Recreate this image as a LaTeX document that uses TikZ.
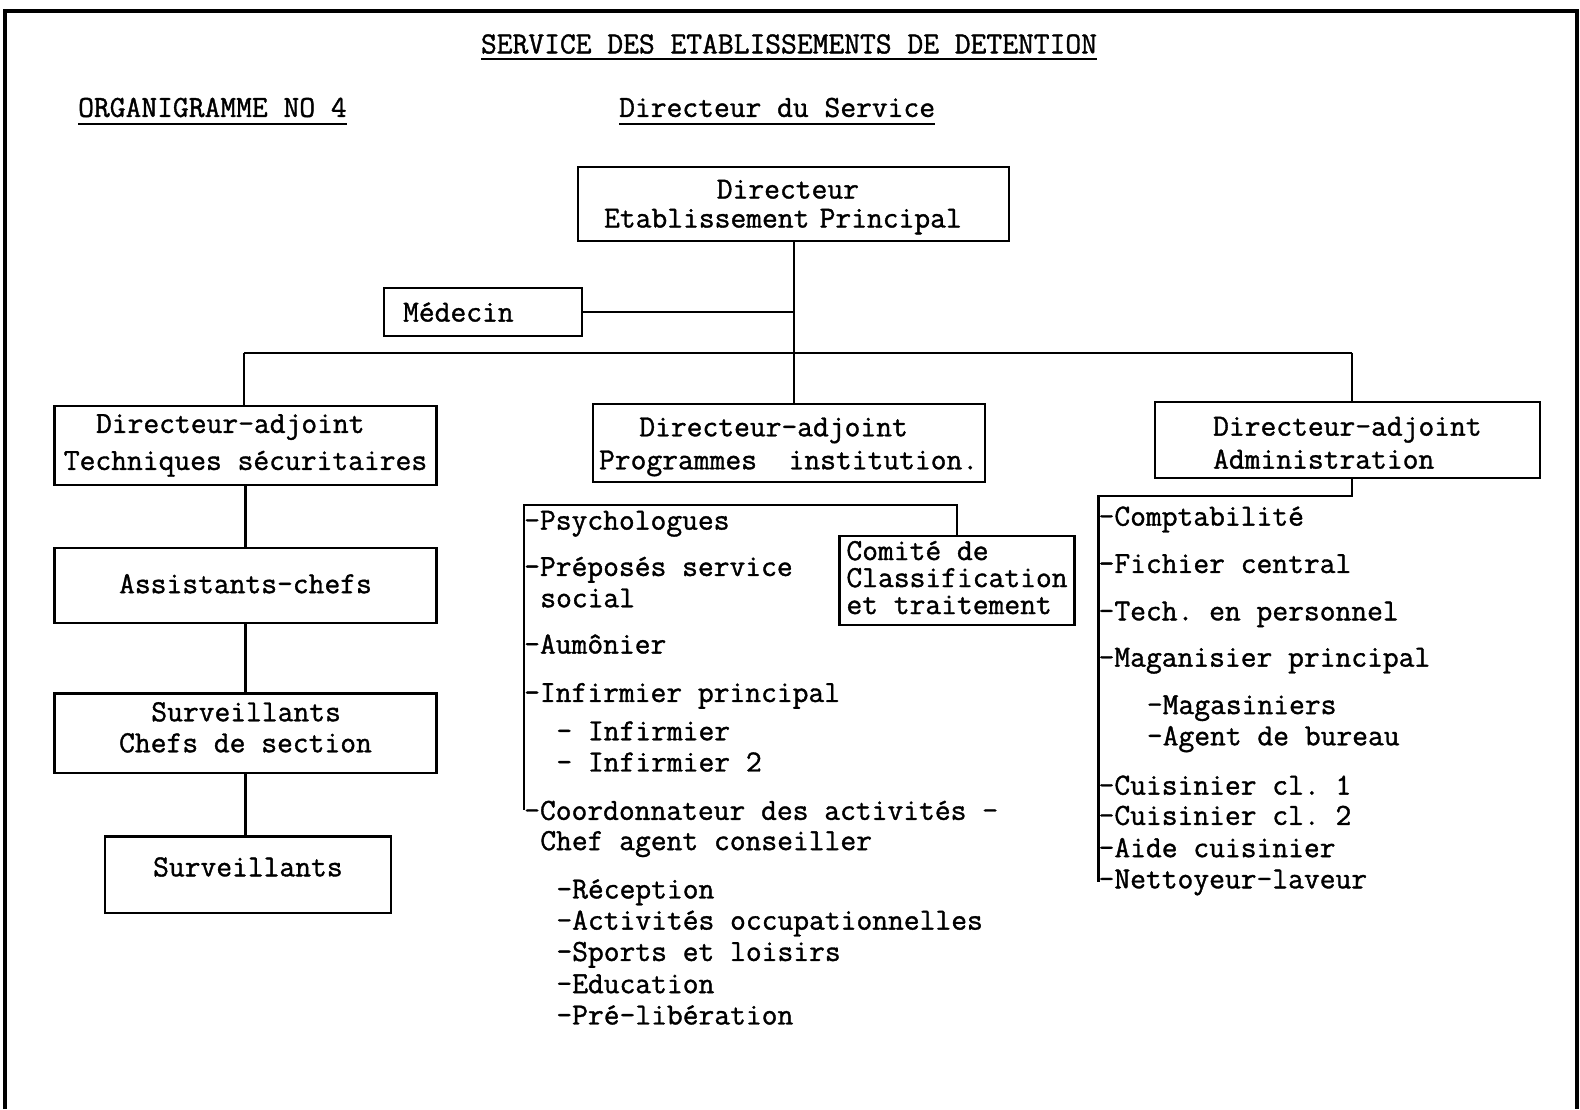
\documentclass[tikz,border=0pt]{standalone}
\usepackage{fontspec}
\setmonofont{Latin Modern Mono}[FakeBold=1.2, WordSpace={1,0,0}]
% one typewriter cell
\newlength\cw
\setlength\cw{16.1pt}
\newcommand\ind[1]{\hspace*{#1\cw}}
\newcommand\typeat[1]{\ttfamily\fontsize{30.67}{#1}\selectfont}
% invisible struts that nudge a box's text up (extra depth) or down (extra height)
\newcommand\padbelow[1]{\rule[-#1]{0pt}{0pt}}
\newcommand\padabove[1]{\rule{0pt}{#1}}

\begin{document}
\begin{tikzpicture}[x=1pt, y=-1pt,
  every node/.style={font=\typeat{31.4}, inner sep=0pt},
  box/.style={draw, line width=2.2pt, anchor=north west, align=left},
  link/.style={line width=2.2pt},
  listitem/.style={anchor=mid west},
  rule/.style={line width=1.8pt}]

\useasboundingbox (0,0) rectangle (1580,1109);

% outer frame (open at the bottom)
\draw[line width=3.2pt] (5,1109) -- (5,11) -- (1577,11) -- (1577,1109);

% headings
\node[anchor=base] (title) at (789,53.4) {SERVICE DES ETABLISSEMENTS DE DETENTION};
\node[anchor=base west] (org) at (78,116.9) {ORGANIGRAMME NO 4};
\node[anchor=base west] (dirsvc) at (619,116.9) {Directeur du Service};
\draw[rule] ([yshift=-5.5pt]title.base west) -- ([yshift=-5.5pt]title.base east);
\draw[rule] ([yshift=-7pt]org.base west) -- ([yshift=-7pt]org.base east);
\draw[rule] ([yshift=-7pt]dirsvc.base west) -- ([yshift=-7pt]dirsvc.base east);

% boxes
\node[box, text width=379pt, inner xsep=26pt, minimum height=74pt, font=\typeat{29}] (dirEP) at (577,166)
  {\padabove{24.7pt}\ind{7}Directeur\\Etablissement Principal};
\node[box, text width=160pt, inner xsep=19pt, minimum height=48pt] (medecin) at (383,287)
  {Médecin};
\node[box, minimum width=382pt, minimum height=78.7pt, font=\typeat{37}] (daTech) at (53.4,405)
  {\ind{2}Directeur-adjoint\\Techniques sécuritaires};
\node[box, minimum width=392pt, minimum height=77.7pt, font=\typeat{33}] (daProg) at (591.5,403)
  {\padabove{26.7pt}\ind{2.5}Directeur-adjoint\\Programmes\ \ institution.};
\node[box, minimum width=385pt, minimum height=75.6pt, font=\typeat{33}] (daAdm) at (1153.8,401)
  {\padabove{24.7pt}Directeur-adjoint\\Administration};
\node[box, minimum width=382pt, minimum height=74.6pt] (asst) at (53.4,547.2)
  {Assistants-chefs\padbelow{4pt}};
\node[box, minimum width=382pt, minimum height=79.6pt, font=\typeat{31}] (chefs) at (53.4,692.3)
  {\ind{2}Surveillants\\Chefs de section\padbelow{12pt}};
\node[box, minimum width=286pt, minimum height=76.6pt] (surv) at (103.8,835.4)
  {Surveillants\padbelow{16pt}};
\node[box, minimum width=235pt, minimum height=88.8pt, font=\typeat{27}] (comite) at (838.4,535)
  {Comité de\\Classification\\et traitement\padbelow{6pt}};

% main connectors
\coordinate (busL) at (243.9,352.7);
\coordinate (busR) at (1352.3,352.7);
\draw[link] (dirEP.south) -- (dirEP.south |- daProg.north);
\draw[link] (medecin.east) -- (medecin.east -| dirEP.south);
\draw[link] (busL) -- (busR);
\draw[link] (busL) -- (busL |- daTech.north);
\draw[link] (busR) -- (busR |- daAdm.north);
\draw[link] (daTech.south) -- (daTech.south |- asst.north);
\draw[link] (asst.south) -- (asst.south |- chefs.north);
\draw[link] (chefs.south) -- (chefs.south |- surv.north);

% programmes list
\node[listitem] (psy)   at (524,527.5)  {-Psychologues};
\node[listitem] (prep)  at (524,573.8)  {-Préposés service};
\node[listitem] (prep2) at (524,605.1)  {\ind{1}social};
\node[listitem] (aum)   at (524,651.4)  {-Aumônier};
\node[listitem] (infp)  at (524,699.8)  {-Infirmier principal};
\node[listitem] (inf1)  at (524,738.1)  {\ind{2}- Infirmier};
\node[listitem] (inf2)  at (524,769.3)  {\ind{2}- Infirmier 2};
\node[listitem] (coord) at (524,817.7)  {-Coordonnateur des activités -};
\node[listitem] (chef)  at (524,847.9)  {\ind{1}Chef agent conseiller};
\node[listitem] (rec)   at (524,896.3)  {\ind{2}-Réception};
\node[listitem] (occ)   at (524,927.5)  {\ind{2}-Activités occupationnelles};
\node[listitem] (spo)   at (524,958.8)  {\ind{2}-Sports et loisirs};
\node[listitem] (edu)   at (524,991)    {\ind{2}-Education};
\node[listitem] (pre)   at (524,1022.3) {\ind{2}-Pré-libération};

\coordinate (mcorner) at (524,504.9);
\draw[link] (comite.north) |- (mcorner) |- (coord.west);

% administration list
\node[listitem] (compt) at (1098.4,523.5) {-Comptabilité};
\node[listitem] (fich)  at (1098.4,570.8) {-Fichier central};
\node[listitem] (tech)  at (1098.4,618.2) {-Tech. en personnel};
\node[listitem] (magp)  at (1098.4,664.5) {-Maganisier principal};
\node[listitem] (mags)  at (1098.4,711.9) {\ind{3}-Magasiniers};
\node[listitem] (agent) at (1098.4,743.1) {\ind{3}-Agent de bureau};
\node[listitem] (cuis1) at (1098.4,792.5) {-Cuisinier cl. 1};
\node[listitem] (cuis2) at (1098.4,822.7) {-Cuisinier cl. 2};
\node[listitem] (aide)  at (1098.4,855)   {-Aide cuisinier};
\node[listitem] (nett)  at (1098.4,886.2) {-Nettoyeur-laveur};

\coordinate (rcorner) at (1098.4,495.8);
\draw[link] (daAdm.south -| busR) |- (rcorner) |- (nett.west);

\end{tikzpicture}
\end{document}
